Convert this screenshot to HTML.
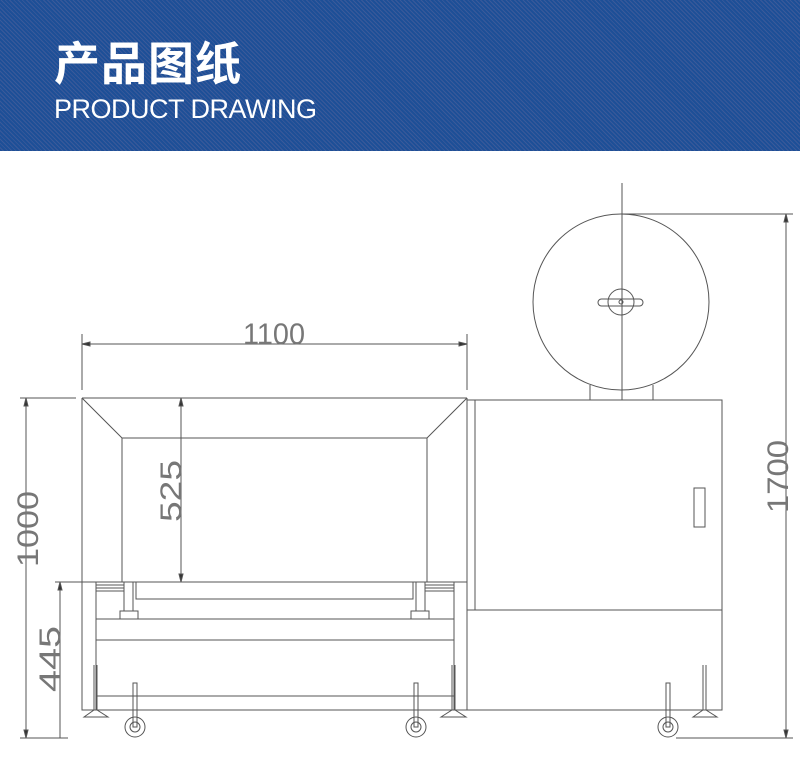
<!DOCTYPE html>
<html><head><meta charset="utf-8"><style>
html,body{margin:0;padding:0;background:#fff;width:800px;height:766px;overflow:hidden}
.hdr{position:absolute;left:0;top:0;width:800px;height:151px;background:#1d4f97;
background-image:repeating-linear-gradient(45deg,#1d4f97 0,#1d4f97 2px,#3a5a9a 2px,#3a5a9a 3px)}
.cn{position:absolute;left:54px;top:28px;color:#fff;font:bold 46px "Noto Sans CJK SC",sans-serif;letter-spacing:1px}
.en{position:absolute;left:54px;top:94px;color:#fff;font:27px "Liberation Sans",sans-serif;letter-spacing:-0.5px}
svg{position:absolute;left:0;top:0}
</style></head><body>
<div class="hdr"></div>
<div class="cn">产品图纸</div>
<div class="en">PRODUCT DRAWING</div>
<svg width="800" height="766" viewBox="0 0 800 766" fill="none" stroke="#555" stroke-width="1">
<path d="M82 398H467M82 398L122 438H427L467 398M122 438V582M427 438V582"/>
<path d="M82 334V390M467 334V390M82 344H467"/>
<path d="M82 344l8 -2v4zM467 344l-8 -2v4z" fill="#333"/>
<text x="243" y="344" font-family="Liberation Sans" font-size="30" fill="#777" stroke="none" textLength="62" lengthAdjust="spacingAndGlyphs">1100</text>
<path d="M181 398V582"/>
<path d="M181 398l-2 8h4zM181 582l-2 -8h4z" fill="#333"/>
<text transform="translate(181,522) rotate(-90)" font-family="Liberation Sans" font-size="30" fill="#777" stroke="none" textLength="62" lengthAdjust="spacingAndGlyphs">525</text>
<path d="M20 398H76M26 398V738M20 738H68"/>
<path d="M26 398l-2 8h4zM26 738l-2 -8h4z" fill="#333"/>
<text transform="translate(38,567) rotate(-90)" font-family="Liberation Sans" font-size="30" fill="#777" stroke="none" textLength="76" lengthAdjust="spacingAndGlyphs">1000</text>
<path d="M55 582H90M60 582V738"/>
<path d="M60 582l-2 8h4z" fill="#333"/>
<text transform="translate(60,692) rotate(-90)" font-family="Liberation Sans" font-size="30" fill="#777" stroke="none" textLength="66" lengthAdjust="spacingAndGlyphs">445</text>
<path d="M82 398V710H467V398M96 582V710M454 582V710M82 582H467"/>
<path d="M136 582H413V599H136Z"/>
<path d="M96 585H124M96 588H124M96 591H124M425 585H454M425 588H454M425 591H454"/>
<path d="M124 582V611M133 582V611M120 611H138V619H120ZM416 582V611M425 582V611M411 611H429V619H411Z"/>
<path d="M96 619H454M96 640H454M96 696H454"/>
<path d="M94 665V710M97 665V710M84 717L94 710H97L108 717ZM452 665V710M455 665V710M441 717L452 710H455L466 717Z"/>
<g><circle cx="135" cy="727" r="10"/><circle cx="135" cy="727" r="5"/><rect x="133" y="683" width="4" height="44"/></g>
<g><circle cx="416" cy="727" r="10"/><circle cx="416" cy="727" r="5"/><rect x="414" y="683" width="4" height="44"/></g>
<g><circle cx="668" cy="727" r="10"/><circle cx="668" cy="727" r="5"/><rect x="666" y="683" width="4" height="44"/></g>
<path d="M703 665V710M706 665V710M693 717L703 710H706L717 717Z"/>
<path d="M467 400H722V710H467M475 400V610M467 610H722"/>
<rect x="694" y="488" width="11" height="39"/>
<circle cx="621" cy="302" r="88"/>
<path d="M622 183V400M590 385V400M653 385V400"/>
<circle cx="621" cy="302" r="13"/>
<circle cx="621" cy="302" r="2"/>
<rect x="598" y="299" width="45" height="7" rx="3.5"/>
<path d="M622 214H793M676 738H793M786 214V738"/>
<path d="M786 214l-2 8h4zM786 738l-2 -8h4z" fill="#333"/>
<text transform="translate(788,513) rotate(-90)" font-family="Liberation Sans" font-size="30" fill="#777" stroke="none" textLength="73" lengthAdjust="spacingAndGlyphs">1700</text>
</svg>
</body></html>
